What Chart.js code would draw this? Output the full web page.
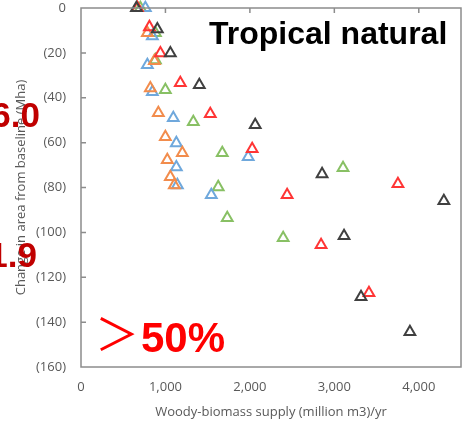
<!DOCTYPE html>
<html>
<head>
<meta charset="utf-8">
<script src="https://cdn.jsdelivr.net/npm/chart.js@4/dist/chart.umd.min.js"></script>
<style>
  html, body { margin: 0; padding: 0; background: #ffffff; }
  #wrap { width: 462px; height: 425px; position: relative; }
</style>
</head>
<body>
<div id="wrap"><canvas id="c" width="462" height="425"></canvas></div>
<script>
// ---- data ----
const xTickValues = [0, 1000, 2000, 3000, 4000];
const yTickValues = [0, -20, -40, -60, -80, -100, -120, -140, -160];

const blackSupply  = [656, 904, 1058, 1401, 2063, 2855, 3115, 3316, 3895, 4297];
const blackChange  = [0, -9.4, -20.1, -34.3, -52.1, -74.0, -101.6, -128.8, -144.4, -86.0];

const redSupply    = [668, 810, 940, 1176, 1531, 2027, 2441, 2843, 3410, 3753];
const redChange    = [0, -8.5, -20.1, -33.4, -47.2, -62.8, -83.3, -105.6, -127.0, -78.4];

const orangeSupply = [668, 786, 869, 821, 916, 999, 1200, 1022, 1058, 1105];
const orangeChange = [0, -11.1, -23.6, -35.7, -46.8, -57.5, -64.6, -67.7, -75.3, -78.9];

const blueSupply   = [762, 845, 786, 845, 1093, 1129, 1129, 1141, 1543, 1980];
const blueChange   = [0, -12.5, -25.4, -37.4, -49.0, -60.2, -70.9, -78.9, -83.3, -66.4];

const greenSupply  = [703, 881, 881, 999, 1330, 1673, 1625, 1732, 2394, 3103];
const greenChange  = [0, -11.1, -23.2, -36.5, -50.8, -64.6, -79.8, -93.6, -102.5, -71.3];

const panelTitle = "Tropical natural";
const xTitle = "Woody-biomass supply (million m3)/yr";
const yTitle = "Change in area from baseline (Mha)";
const noteA = "6.0";
const noteB = "1.9";
const noteC = "50%";

// ---- build ----
function pts(xs, ys) { return xs.map((x, i) => ({ x: x, y: ys[i] })); }
function ds(label, xs, ys, color) {
  return {
    label: label,
    data: pts(xs, ys),
    pointStyle: 'triangle',
    pointRadius: 6.2,
    pointHoverRadius: 6.2,
    borderWidth: 2,
    pointBorderColor: color,
    borderColor: color,
    backgroundColor: 'rgba(0,0,0,0)',
    pointBackgroundColor: 'rgba(255,255,255,0)',
    showLine: false,
    clip: false
  };
}

const axisColor = '#8c8c8c';
const tickColor = '#595959';

const overlay = {
  id: 'overlay',
  afterDraw(chart) {
    const ctx = chart.ctx;
    const a = chart.chartArea;
    const xs = chart.scales.x, ys = chart.scales.y;
    ctx.save();
    // frame
    ctx.strokeStyle = axisColor;
    ctx.lineWidth = 1.5;
    ctx.strokeRect(a.left, a.top, a.right - a.left, a.bottom - a.top);
    // inside tick marks
    ctx.beginPath();
    xTickValues.forEach(v => {
      if (v === 0) return;
      const px = xs.getPixelForValue(v);
      ctx.moveTo(px, a.top); ctx.lineTo(px, a.top + 5);
    });
    yTickValues.forEach(v => {
      if (v === 0 || v === -160) return;
      const py = ys.getPixelForValue(v);
      ctx.moveTo(a.left, py); ctx.lineTo(a.left + 5, py);
    });
    ctx.stroke();
    // panel title
    ctx.fillStyle = '#000000';
    ctx.font = 'bold 32px "Liberation Sans", Arial, sans-serif';
    ctx.textAlign = 'left';
    ctx.textBaseline = 'alphabetic';
    ctx.fillText(panelTitle, 209, 44);
    // red notes
    ctx.fillStyle = '#C00000';
    ctx.font = 'bold 35px "Liberation Sans", Arial, sans-serif';
    ctx.textAlign = 'right';
    ctx.fillText(noteA, 40, 127);
    ctx.fillText(noteB, 37, 267);
    ctx.fillStyle = '#FF0000';
    ctx.textAlign = 'left';
    ctx.font = '44px "Noto Sans CJK JP", sans-serif';
    ctx.fillText('\uFF1E', 95, 351);
    ctx.font = 'bold 42px "Liberation Sans", Arial, sans-serif';
    ctx.fillText(noteC, 141, 352);
    ctx.restore();
  }
};

const chart = new Chart(document.getElementById('c'), {
  type: 'scatter',
  data: {
    datasets: [
      ds('Series 1', blackSupply, blackChange, '#404040'),
      ds('Series 2', redSupply, redChange, '#FF3535'),
      ds('Series 3', orangeSupply, orangeChange, '#F28C4C'),
      ds('Series 4', blueSupply, blueChange, '#6FA8DC'),
      ds('Series 5', greenSupply, greenChange, '#88C064')
    ]
  },
  options: {
    responsive: false,
    animation: false,
    events: [],
    layout: { autoPadding: false, padding: { top: 8, right: 1, left: 0, bottom: 0 } },
    plugins: { legend: { display: false }, tooltip: { enabled: false }, title: { display: false } },
    scales: {
      x: {
        type: 'linear',
        min: 0, max: 4500,
        afterBuildTicks(s) { s.ticks = xTickValues.map(v => ({ value: v })); },
        afterFit(s) { s.height = 58; s.paddingLeft = 0; s.paddingRight = 0; },
        grid: { display: false, drawTicks: false },
        border: { display: false },
        ticks: {
          padding: 12,
          color: tickColor,
          font: { family: '"Open Sans", sans-serif', size: 13 },
          callback: v => v.toLocaleString('en-US')
        },
        title: {
          display: true, text: xTitle, color: tickColor,
          font: { family: '"Open Sans", sans-serif', size: 13 },
          padding: { top: 4, bottom: 5 }
        }
      },
      y: {
        type: 'linear',
        min: -160, max: 0,
        afterBuildTicks(s) { s.ticks = yTickValues.map(v => ({ value: v })); },
        afterFit(s) { s.width = 81; s.paddingTop = 0; s.paddingBottom = 0; },
        grid: { display: false, drawTicks: false },
        border: { display: false },
        ticks: {
          padding: 15,
          color: tickColor,
          font: { family: '"Open Sans", sans-serif', size: 13 },
          callback: v => v === 0 ? '0' : '(' + Math.abs(v) + ')'
        },
        title: {
          display: true, text: yTitle, color: tickColor,
          font: { family: '"Open Sans", sans-serif', size: 13 },
          padding: { top: 13, bottom: 4 }
        }
      }
    }
  },
  plugins: [overlay]
});
</script>
</body>
</html>
